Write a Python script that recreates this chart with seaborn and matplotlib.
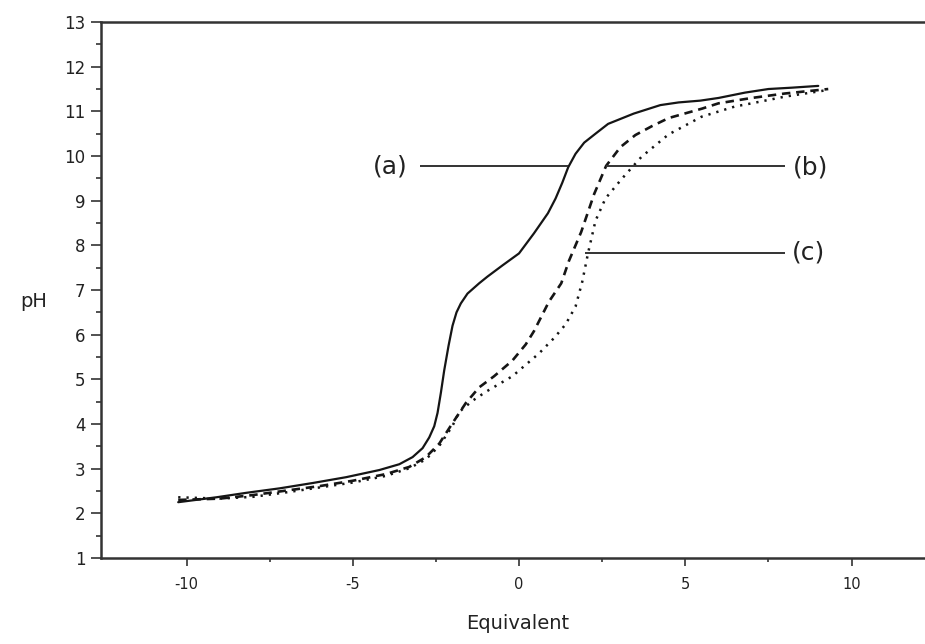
import matplotlib
matplotlib.use("Agg")
import matplotlib.pyplot as plt
import numpy as np
import pandas as pd
import seaborn as sns

# ---- data ----
a_x = [-10.25, -9.1, -8.2, -7.2, -6.2, -5.2, -4.2, -3.6, -3.2, -2.9, -2.7, -2.55, -2.45, -2.35,
       -2.25, -2.12, -2.0, -1.88, -1.75, -1.55, -1.2, -0.95, -0.5, 0.0, 0.45, 0.87, 1.1, 1.3,
       1.48, 1.7, 1.96, 2.3, 2.68, 3.45, 4.25, 4.8, 5.45, 6.0, 6.8, 7.5, 8.2, 9.0]
a_ph = [2.25, 2.36, 2.46, 2.56, 2.68, 2.81, 2.97, 3.1, 3.26, 3.46, 3.7, 3.95, 4.25, 4.7,
        5.2, 5.75, 6.2, 6.5, 6.7, 6.92, 7.15, 7.3, 7.55, 7.82, 8.27, 8.72, 9.05, 9.4,
        9.75, 10.05, 10.3, 10.5, 10.72, 10.95, 11.14, 11.2, 11.24, 11.3, 11.42, 11.5, 11.53, 11.57]

b_x = [-10.25, -9.0, -8.0, -7.0, -6.0, -5.0, -4.0, -3.3, -2.8, -2.4, -2.0, -1.6, -1.2, -0.75,
       -0.2, 0.2, 0.45, 0.9, 1.27, 1.5, 1.87, 2.26, 2.62, 3.05, 3.5, 4.0, 4.5, 5.5, 6.0, 7.0,
       8.0, 9.3]
b_ph = [2.3, 2.33, 2.41, 2.51, 2.61, 2.73, 2.88, 3.04, 3.26, 3.56, 4.02, 4.47, 4.82, 5.07,
        5.42, 5.78, 6.08, 6.74, 7.15, 7.65, 8.3, 9.15, 9.78, 10.2, 10.47, 10.67, 10.85, 11.06,
        11.18, 11.3, 11.4, 11.5]

c_x = [-10.25, -9.0, -8.0, -7.0, -6.0, -5.0, -4.0, -3.3, -2.8, -2.4, -2.0, -1.8, -1.4, -1.0,
       -0.2, 0.6, 1.06, 1.4, 1.7, 1.9, 2.08, 2.3, 2.6, 3.08, 3.68, 4.49, 5.49, 6.5, 7.0, 8.0, 9.3]
c_ph = [2.36, 2.33, 2.37, 2.47, 2.58, 2.69, 2.84, 3.01, 3.21, 3.51, 3.96, 4.27, 4.52, 4.72,
        5.07, 5.58, 5.93, 6.23, 6.63, 7.18, 7.84, 8.55, 9.05, 9.48, 9.98, 10.48, 10.88, 11.11,
        11.18, 11.33, 11.48]

labels = ["(a)", "(b)", "(c)"]
label_x = [-3.86, 8.78, 8.70]
label_y = [9.76, 9.74, 7.83]
leader_y = [9.78, 9.78, 7.84]
leader_x0 = [-2.98, 2.62, 1.99]
leader_x1 = [1.47, 8.0, 8.0]

x_ticks = [-10, -5, 0, 5, 10]
x_minor = [-7.5, -2.5, 2.5, 7.5]
y_ticks = list(range(1, 14))
y_minor = [v + 0.5 for v in range(1, 13)]

# ---- figure ----
sns.set_theme(style="ticks")
plt.rcParams["font.family"] = ["DejaVu Sans"]
plt.rcParams["axes.unicode_minus"] = False

fig = plt.figure(figsize=(9.25, 6.44), dpi=100)
fig.patch.set_facecolor("white")
ax = fig.add_axes([0.1089, 0.1335, 0.8911, 0.8323])
ax.set_facecolor("white")

line_col = "#151515"
df_a = pd.DataFrame({"x": a_x, "pH": a_ph})
df_b = pd.DataFrame({"x": b_x, "pH": b_ph})
df_c = pd.DataFrame({"x": c_x, "pH": c_ph})
sns.lineplot(data=df_a, x="x", y="pH", ax=ax, color=line_col, lw=1.6, sort=False)
sns.lineplot(data=df_b, x="x", y="pH", ax=ax, color=line_col, lw=1.9, sort=False,
             linestyle=(0, (3.2, 2.2)))
sns.lineplot(data=df_c, x="x", y="pH", ax=ax, color=line_col, lw=1.8, sort=False,
             linestyle=(0, (0.9, 2.4)))

# leader lines and labels
for lab, tx, ty, ly, x0, x1 in zip(labels, label_x, label_y, leader_y, leader_x0, leader_x1):
    ax.hlines(ly, x0, x1, color="#333333", lw=1.4)
    ax.text(tx, ty, lab, fontsize=18, ha="center", va="center", color="#222222")

ax.set_xlim(-12.58, 12.21)
ax.set_ylim(1, 13)
ax.set_xticks(x_ticks)
ax.set_xticks(x_minor, minor=True)
ax.set_yticks(y_ticks)
ax.set_yticks(y_minor, minor=True)

for s in ["top", "left", "bottom"]:
    ax.spines[s].set_linewidth(1.8)
    ax.spines[s].set_color("#333333")
ax.spines["right"].set_visible(False)

ax.tick_params(axis="y", which="major", length=7, width=1.2, direction="out", pad=4,
               labelsize=12, colors="#333333", labelcolor="#222222")
ax.tick_params(axis="y", which="minor", length=3.5, width=1.2, direction="out",
               colors="#333333")
ax.tick_params(axis="x", which="major", length=6, width=1.2, direction="out", pad=8,
               labelsize=10.5, colors="#333333", labelcolor="#222222")
ax.tick_params(axis="x", which="minor", length=3, width=1.2, direction="out",
               colors="#333333")

ax.set_xlabel("Equivalent", fontsize=14, color="#222222")
ax.xaxis.set_label_coords(0.506, -0.104)
ax.set_ylabel("pH", fontsize=14, rotation=0, color="#222222", ha="center", va="center")
ax.yaxis.set_label_coords(-0.081, 0.479)

fig.savefig("out.png", dpi=100, facecolor="white")
